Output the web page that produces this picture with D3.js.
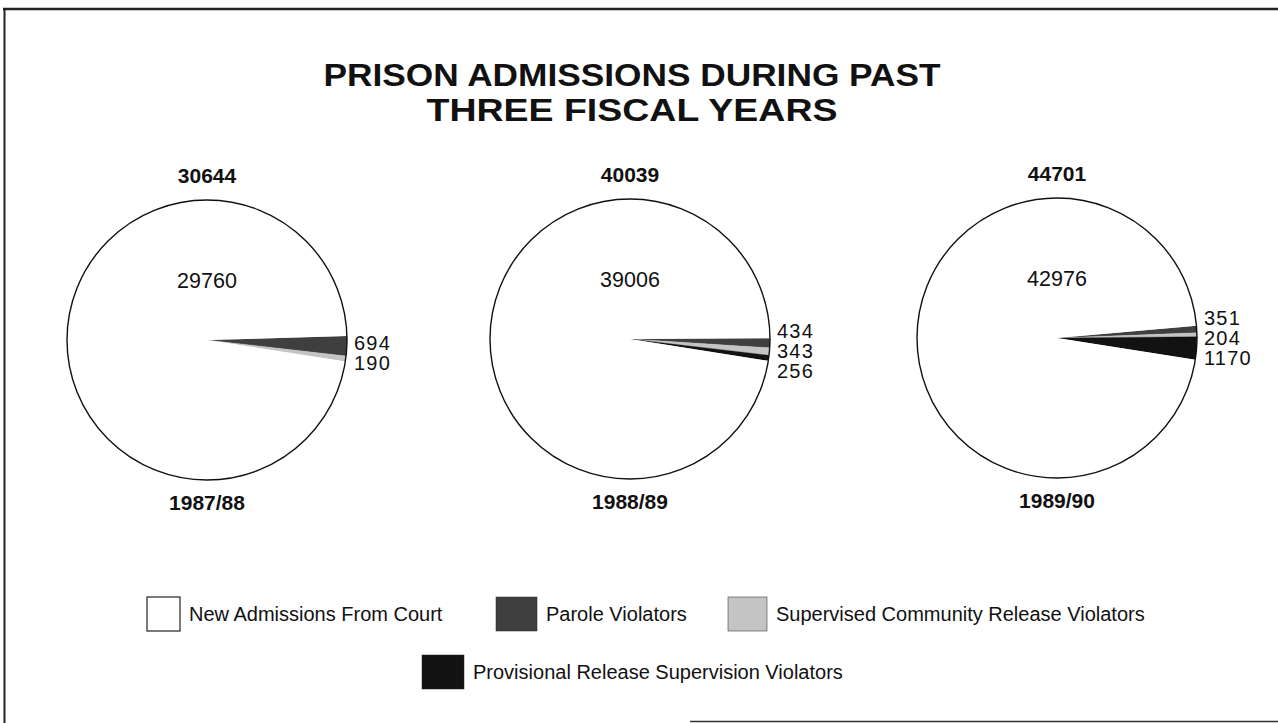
<!DOCTYPE html>
<html>
<head>
<meta charset="utf-8">
<script src="https://cdn.jsdelivr.net/npm/d3@7"></script>
<style>
  html, body { margin: 0; padding: 0; background: #fff; }
  svg { display: block; font-family: "Liberation Sans", Arial, Helvetica, sans-serif; }
</style>
</head>
<body>
<svg id="chart" width="1278" height="723"></svg>
<script>
// ---- data ----
const years = ["1987/88", "1988/89", "1989/90"];
const totals = [30644, 40039, 44701];
const newAdmissions = [29760, 39006, 42976];
const paroleViolators = [694, 434, 351];
const supervisedViolators = [190, 343, 204];
const provisionalViolators = [0, 256, 1170];
const categories = ["New Admissions From Court", "Parole Violators",
  "Supervised Community Release Violators", "Provisional Release Supervision Violators"];
const titleLines = ["PRISON ADMISSIONS DURING PAST", "THREE FISCAL YEARS"];

// ---- layout / style ----
const colors = ["#ffffff", "#3f3f3f", "#c4c4c4", "#121212"];
const pieCenters = [[207, 340], [630, 339], [1057, 338]];
const startOffsetsDeg = [-1.6, -0.3, -5.0];
const radius = 140;

const svg = d3.select("#chart");

// frame
svg.append("line").attr("x1", 3).attr("x2", 1278).attr("y1", 9).attr("y2", 9)
  .attr("stroke", "#222").attr("stroke-width", 2.5);
svg.append("line").attr("x1", 4.5).attr("x2", 4.5).attr("y1", 8).attr("y2", 723)
  .attr("stroke", "#222").attr("stroke-width", 2);
svg.append("line").attr("x1", 690).attr("x2", 1278).attr("y1", 721.5).attr("y2", 721.5)
  .attr("stroke", "#333").attr("stroke-width", 1.5);

// title
const titleWidths = [617, 411];
titleLines.forEach((t, i) => {
  svg.append("text")
    .attr("x", 632).attr("y", 86 + i * 35)
    .attr("text-anchor", "middle")
    .attr("font-size", 31).attr("font-weight", "bold")
    .attr("textLength", titleWidths[i]).attr("lengthAdjust", "spacingAndGlyphs")
    .attr("fill", "#111")
    .text(t);
});

const arc = d3.arc().innerRadius(0).outerRadius(radius);

years.forEach((yr, i) => {
  const [cx, cy] = pieCenters[i];
  const vals = [paroleViolators[i], supervisedViolators[i], provisionalViolators[i], newAdmissions[i]];
  const catIdx = [1, 2, 3, 0];
  const a0 = Math.PI / 2 + startOffsetsDeg[i] * Math.PI / 180;
  const pie = d3.pie().sort(null).value(d => d.v)
    .startAngle(a0).endAngle(a0 + 2 * Math.PI);
  const arcs = pie(vals.map((v, k) => ({ v, c: catIdx[k] })));
  const g = svg.append("g").attr("transform", `translate(${cx},${cy})`);

  g.selectAll("path.slice").data(arcs.filter(d => d.data.v > 0)).join("path")
    .attr("class", "slice")
    .attr("d", arc)
    .attr("fill", d => colors[d.data.c])
    .attr("stroke", d => d.data.c === 0 ? "none" : colors[d.data.c])
    .attr("stroke-width", 0.3);
  g.append("circle").attr("r", radius).attr("fill", "none")
    .attr("stroke", "#111").attr("stroke-width", 1.4);

  // total above, year below
  g.append("text").attr("x", 0).attr("y", -radius - 17)
    .attr("text-anchor", "middle").attr("font-size", 21).attr("font-weight", "bold")
    .attr("fill", "#111").text(totals[i]);
  g.append("text").attr("x", 0).attr("y", radius + 30)
    .attr("text-anchor", "middle").attr("font-size", 21).attr("font-weight", "bold")
    .attr("fill", "#111").text(yr);
  // new admissions label inside
  g.append("text").attr("x", 0).attr("y", -52)
    .attr("text-anchor", "middle").attr("font-size", 21.5)
    .attr("fill", "#111").text(newAdmissions[i]);

  // small slice labels stacked to the right
  const small = arcs.filter(d => d.data.c !== 0 && d.data.v > 0);
  const mids = small.map(d => radius * Math.sin((d.startAngle + d.endAngle) / 2 - Math.PI / 2));
  const meanY = d3.mean(mids);
  const step = 20;
  small.forEach((d, k) => {
    const y = meanY + (k - (small.length - 1) / 2) * step;
    g.append("text").attr("x", radius + 7).attr("y", y)
      .attr("dy", "0.36em").attr("font-size", 20).attr("letter-spacing", 1.2)
      .attr("fill", "#111")
      .text(d.data.v);
  });
});

// legend
const legendItems = [
  { c: 0, x: 147, y: 597, w: 33 },
  { c: 1, x: 496, y: 597, w: 41 },
  { c: 2, x: 728, y: 597, w: 39 },
  { c: 3, x: 422, y: 655, w: 42 }
];
legendItems.forEach(it => {
  svg.append("rect").attr("x", it.x).attr("y", it.y).attr("width", it.w).attr("height", 34)
    .attr("fill", colors[it.c]).attr("stroke", "#222").attr("stroke-width", it.c === 0 ? 1.2 : 0.5);
  svg.append("text").attr("x", it.x + it.w + 9).attr("y", it.y + 17)
    .attr("dy", "0.36em").attr("font-size", 20).attr("fill", "#111")
    .text(categories[it.c]);
});
</script>
</body>
</html>
